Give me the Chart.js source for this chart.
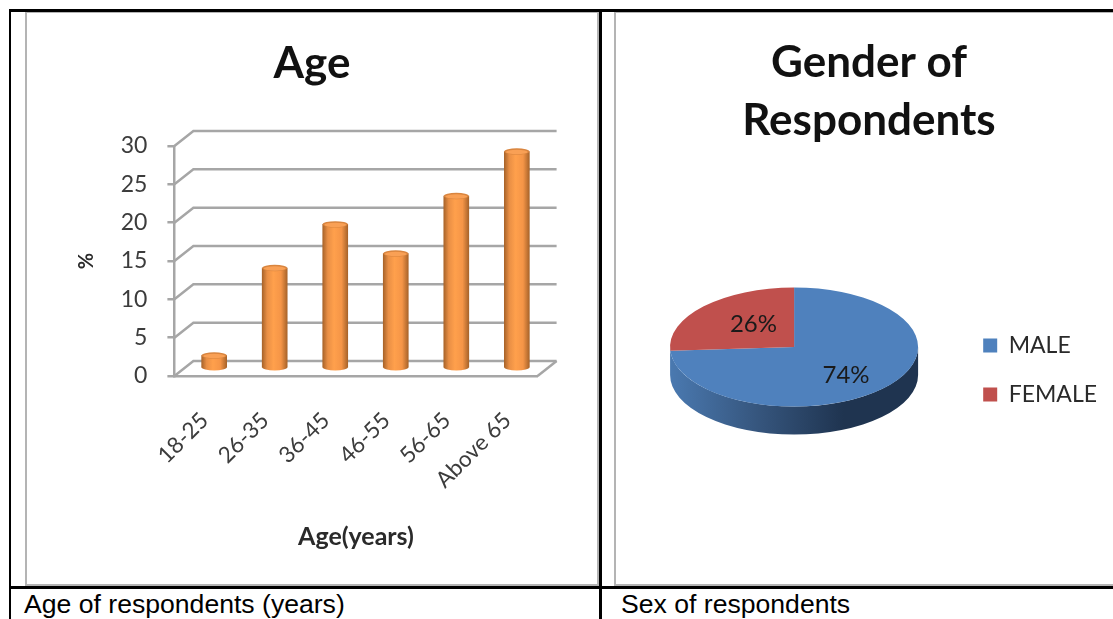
<!DOCTYPE html>
<html>
<head>
<meta charset="utf-8">
<script src="https://cdn.jsdelivr.net/npm/chart.js@4"></script>
<style>
  html, body { margin: 0; padding: 0; background: #fff; overflow: hidden; }
  body { width: 1113px; height: 619px; position: relative; }
  .rule { position: absolute; background: #000; }
  .frame { position: absolute; box-sizing: border-box; border: 2px solid #b4b4b4; background: #fff; }
  .frame canvas { position: absolute; left: 0; top: 0; }
  .caption { position: absolute; top: 590px; font: 26.6px "Liberation Sans", Arial, sans-serif; color: #000; white-space: nowrap; line-height: 28px; }
</style>
</head>
<body>
  <div class="frame" style="left:25px;top:11px;width:574px;height:575px"><canvas id="age" width="570" height="571"></canvas></div>
  <div class="frame" style="left:614px;top:11px;width:510px;height:575px"><canvas id="gender" width="506" height="571"></canvas></div>
  <div class="rule" style="left:9px;top:9px;width:1104px;height:3px"></div>
  <div class="rule" style="left:9px;top:586px;width:1104px;height:3px"></div>
  <div class="rule" style="left:9px;top:9px;width:2px;height:610px"></div>
  <div class="rule" style="left:599px;top:9px;width:3px;height:610px"></div>
  <div class="caption" style="left:24px">Age of respondents (years)</div>
  <div class="caption" style="left:621px">Sex of respondents</div>
<script>
const ageCategories = ['18-25', '26-35', '36-45', '46-55', '56-65', 'Above 65'];
const agePercent = [1.7, 13.1, 18.8, 15, 22.5, 28.3];
const ageTicks = [0, 5, 10, 15, 20, 25, 30];

const genderCategories = ['MALE', 'FEMALE'];
const genderPercent = [74, 26];
const genderColors = ['#4f81bd', '#c0504d'];

const FONT = 'Lato, "Open Sans", sans-serif';
const INK = '#3c3c3c';
const GRID = '#a6a6a6';

// Depth of the pseudo-3D box behind the column plot.
const DEPTH_X = 19, DEPTH_Y = -15;
const COLUMN_WIDTH = 25, CAP_RY = 3.2;

function columnFill(ctx, x) {
  if (!Number.isFinite(x)) return '#f79646';
  const g = ctx.createLinearGradient(x - COLUMN_WIDTH / 2, 0, x + COLUMN_WIDTH / 2, 0);
  g.addColorStop(0, '#a9642a');
  g.addColorStop(0.2, '#e98f45');
  g.addColorStop(0.45, '#ffa04c');
  g.addColorStop(0.75, '#f59547');
  g.addColorStop(1, '#a9642a');
  return g;
}

const boxPlugin = {
  id: 'box3d',
  beforeDatasetsDraw(chart) {
    const { ctx, chartArea: a, scales: { y } } = chart;
    ctx.save();
    ctx.strokeStyle = GRID;
    ctx.lineWidth = 2.5;
    ageTicks.forEach(v => {
      const py = y.getPixelForValue(v);
      ctx.beginPath();
      ctx.moveTo(a.left, py);
      ctx.lineTo(a.left + DEPTH_X, py + DEPTH_Y);
      ctx.lineTo(a.right + DEPTH_X, py + DEPTH_Y);
      ctx.stroke();
    });
    ctx.beginPath();
    ctx.moveTo(a.right, a.bottom);
    ctx.lineTo(a.right + DEPTH_X, a.bottom + DEPTH_Y);
    ctx.stroke();
    ctx.restore();

    // Columns stand in the middle of the floor, half way into the box.
    ctx.save();
    ctx.translate(DEPTH_X / 2, DEPTH_Y / 2);
    chart.getDatasetMeta(0).data.forEach(bar => {
      ctx.fillStyle = columnFill(ctx, bar.x);
      ctx.beginPath();
      ctx.ellipse(bar.x, bar.base, COLUMN_WIDTH / 2, CAP_RY, 0, 0, Math.PI * 2);
      ctx.fill();
    });
  },
  afterDatasetsDraw(chart) {
    const { ctx } = chart;
    chart.getDatasetMeta(0).data.forEach(bar => {
      ctx.fillStyle = '#d9853f';
      ctx.beginPath();
      ctx.ellipse(bar.x, bar.y, COLUMN_WIDTH / 2, CAP_RY, 0, 0, Math.PI * 2);
      ctx.fill();
      ctx.fillStyle = '#f9a055';
      ctx.beginPath();
      ctx.ellipse(bar.x, bar.y + 0.5, COLUMN_WIDTH / 2 - 1.5, CAP_RY - 1, 0, 0, Math.PI * 2);
      ctx.fill();
    });
    ctx.restore();
  }
};

new Chart(document.getElementById('age'), {
  type: 'bar',
  plugins: [boxPlugin],
  data: {
    labels: ageCategories,
    datasets: [{
      data: agePercent,
      clip: false,
      barThickness: COLUMN_WIDTH,
      backgroundColor: c => c.chart.scales.x && Number.isInteger(c.dataIndex)
        ? columnFill(c.chart.ctx, c.chart.scales.x.getPixelForValue(c.dataIndex))
        : '#f79646'
    }]
  },
  options: {
    responsive: false,
    animation: false,
    layout: { padding: { top: 24, right: 59.4, left: 59.4, bottom: 0 } },
    plugins: {
      legend: { display: false },
      tooltip: { enabled: false },
      title: {
        display: true,
        text: 'Age',
        color: '#111',
        font: { family: FONT, size: 44, weight: 'bold', lineHeight: 1.2 },
        padding: { top: 0, bottom: 56.2 }
      }
    },
    scales: {
      x: {
        grid: { display: false },
        border: { display: true, color: GRID, width: 2.5 },
        ticks: {
          color: INK,
          font: { family: FONT, size: 22.5 },
          minRotation: 45,
          maxRotation: 45,
          padding: 23
        },
        title: {
          display: true,
          text: 'Age(years)',
          color: '#2a2a2a',
          font: { family: FONT, size: 25, weight: 'bold' },
          padding: { top: 0, bottom: 32 }
        },
        afterFit(s) { s.height = 208; }
      },
      y: {
        min: 0,
        max: 30,
        afterBuildTicks(s) { s.ticks = ageTicks.map(value => ({ value })); },
        grid: { drawOnChartArea: false, color: GRID, lineWidth: 2.5, tickLength: 7 },
        border: { display: true, color: GRID, width: 2.5 },
        ticks: { color: INK, font: { family: FONT, size: 23 }, padding: 20 },
        title: {
          display: true,
          text: '%',
          color: '#2a2a2a',
          font: { family: FONT, size: 20, weight: 'bold' },
          padding: { top: -12, bottom: 0 }
        },
        afterFit(s) { s.width = 88; }
      }
    }
  }
});

// Pie tilt: the disc is squashed into an ellipse and given a shaded rim.
const TILT = 0.48, RIM = 28, DISC_Y = 334;
const labelRadius = [0.575, 0.45];
const labelNudge = [5, -4];

const tiltPlugin = {
  id: 'tiltedPie',
  beforeDatasetsDraw(chart) {
    const { ctx } = chart;
    const arc = chart.getDatasetMeta(0).data[0];
    const rx = arc.outerRadius, ry = rx * TILT, cx = arc.x;
    const rim = ctx.createLinearGradient(cx - rx, 0, cx + rx, 0);
    rim.addColorStop(0, '#4a79b0');
    rim.addColorStop(0.35, '#36567e');
    rim.addColorStop(0.7, '#1f3450');
    rim.addColorStop(1, '#1f3450');
    ctx.fillStyle = rim;
    ctx.beginPath();
    ctx.ellipse(cx, DISC_Y, rx, ry, 0, 0, Math.PI);
    ctx.lineTo(cx - rx, DISC_Y + RIM);
    ctx.ellipse(cx, DISC_Y + RIM, rx, ry, 0, Math.PI, 0, true);
    ctx.closePath();
    ctx.fill();
    ctx.save();
    ctx.translate(cx, DISC_Y);
    ctx.scale(1, TILT);
    ctx.translate(-cx, -arc.y);
  },
  afterDatasetsDraw(chart) {
    const { ctx } = chart;
    ctx.restore();
    const arcs = chart.getDatasetMeta(0).data;
    ctx.save();
    ctx.fillStyle = '#1a1a1a';
    ctx.font = '24px ' + FONT;
    ctx.textAlign = 'center';
    ctx.textBaseline = 'middle';
    arcs.forEach((arc, i) => {
      const mid = (arc.startAngle + arc.endAngle) / 2;
      const r = arc.outerRadius * labelRadius[i];
      const x = arc.x + Math.cos(mid) * r;
      const y = DISC_Y + Math.sin(mid) * r * TILT + labelNudge[i];
      ctx.fillText(genderPercent[i] + '%', x, y);
    });
    ctx.restore();
  }
};

new Chart(document.getElementById('gender'), {
  type: 'pie',
  plugins: [tiltPlugin],
  data: {
    labels: genderCategories,
    datasets: [{ data: genderPercent, backgroundColor: genderColors, borderWidth: 0, clip: false }]
  },
  options: {
    responsive: false,
    animation: false,
    radius: 124,
    layout: { padding: { top: 21, right: 15, left: 15, bottom: 152 } },
    plugins: {
      tooltip: { enabled: false },
      title: {
        display: true,
        text: ['Gender of', 'Respondents'],
        color: '#111',
        font: { family: FONT, size: 44, weight: 'bold', lineHeight: 1.318 },
        padding: { top: 0, bottom: 0 }
      },
      legend: {
        display: true,
        position: 'right',
        align: 'end',
        labels: {
          color: '#2a2a2a',
          font: { family: FONT, size: 23 },
          boxWidth: 14,
          boxHeight: 14,
          padding: 26
        }
      }
    }
  }
});
</script>
</body>
</html>
